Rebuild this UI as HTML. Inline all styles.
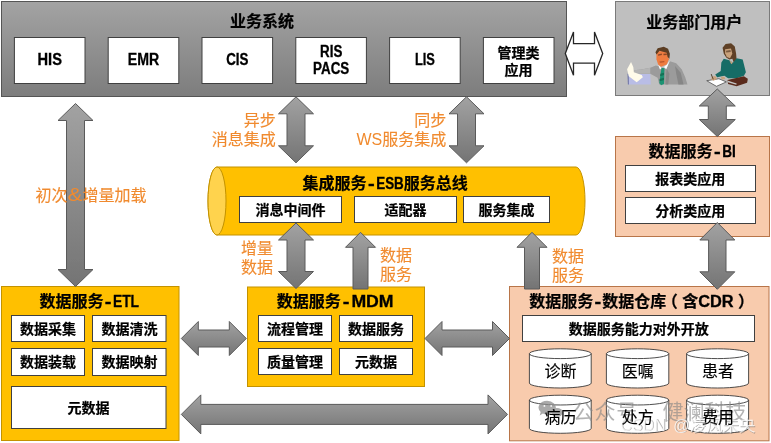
<!DOCTYPE html>
<html lang="zh">
<head>
<meta charset="utf-8">
<title>数据集成架构</title>
<style>
html,body{margin:0;padding:0;background:#fff;}
body{width:771px;height:443px;overflow:hidden;font-family:"Liberation Sans","Noto Sans CJK SC",sans-serif;}
svg{display:block;}
svg text{font-family:"Liberation Sans","Noto Sans CJK SC",sans-serif;}
</style>
</head>
<body>
<svg width="771" height="443" viewBox="0 0 771 443">
<defs>
<filter id="pblur"><feGaussianBlur stdDeviation="0.35"/></filter>
<filter id="soft" x="0" y="0" width="771" height="443" filterUnits="userSpaceOnUse"><feGaussianBlur stdDeviation="0.45"/></filter>
<linearGradient id="gs" x1="0" y1="0" x2="0" y2="1"><stop offset="0" stop-color="#a3a3a3"/><stop offset="1" stop-color="#7d7d7d"/></linearGradient>
<linearGradient id="ga" x1="0" y1="0" x2="0" y2="1"><stop offset="0" stop-color="#a2a2a2"/><stop offset="1" stop-color="#747474"/></linearGradient>
</defs>
<rect width="771" height="443" fill="#fff"/>
<g filter="url(#soft)">
<rect x="1.5" y="1.5" width="565.00" height="95.00" fill="url(#gs)" stroke="#555" stroke-width="1"/>
<rect x="14.4" y="37.5" width="70.60" height="46.00" fill="#fff" stroke="#404040" stroke-width="1"/>
<rect x="108.2" y="37.5" width="70.60" height="46.00" fill="#fff" stroke="#404040" stroke-width="1"/>
<rect x="202.0" y="37.5" width="70.60" height="46.00" fill="#fff" stroke="#404040" stroke-width="1"/>
<rect x="295.79999999999995" y="37.5" width="70.60" height="46.00" fill="#fff" stroke="#404040" stroke-width="1"/>
<rect x="389.59999999999997" y="37.5" width="70.60" height="46.00" fill="#fff" stroke="#404040" stroke-width="1"/>
<rect x="483.4" y="37.5" width="70.60" height="46.00" fill="#fff" stroke="#404040" stroke-width="1"/>
<rect x="615.5" y="1.5" width="154.00" height="94.00" fill="#bfbfbf" stroke="#7a7a7a" stroke-width="1"/>
<g id="people" filter="url(#pblur)">
<!-- man at desk -->
<g transform="translate(622 40) scale(0.1129)">
<polygon points="55,300 250,300 255,395 60,395" fill="#b9bde6"/>
<polygon points="48,300 60,300 62,395 52,395" fill="#767cab"/>
<polygon points="330,235 300,225 250,245 170,262 105,268 100,295 180,298 250,300 315,335 330,395 580,395 560,330 530,262 480,205 425,188 395,250 350,250" fill="#9b9b9b"/>
<polygon points="250,245 170,262 105,268 100,295 180,298 250,300" fill="#b4b4b4"/>
<polygon points="470,230 520,290 545,395 500,395 480,300" fill="#868686"/>
<polygon points="395,250 420,300 410,395 385,395" fill="#8a8a8a"/>
<polygon points="322,222 352,250 336,262" fill="#fff"/>
<polygon points="422,183 392,258 372,240 400,215" fill="#fff"/>
<polygon points="350,245 376,250 372,390 346,400 330,380" fill="#1f9373"/>
<polygon points="340,300 372,290 372,310 338,322" fill="#127055"/>
<polygon points="334,345 372,335 372,355 333,365" fill="#127055"/>
<polygon points="305,100 395,98 416,170 396,216 346,238 320,216 305,170" fill="#ee7b40"/>
<polygon points="318,128 352,120 354,132 320,140" fill="#8a4a28"/>
<polygon points="366,122 396,120 398,132 368,134" fill="#8a4a28"/>
<polygon points="332,190 376,186 374,198 336,202" fill="#b8552a"/>
<polygon points="296,108 316,72 370,60 408,78 424,122 420,165 404,150 396,112 332,96 306,128" fill="#5b3d22"/>
<polygon points="80,195 100,240 105,285 175,310 185,330 130,375 60,320 45,260" fill="#fffbea"/>
</g>
<!-- woman writing -->
<g transform="translate(700 38) scale(0.12201)">
<polygon points="185,80 210,50 255,44 285,70 296,130 302,200 282,216 265,170 240,176 215,160 195,130" fill="#5f4126"/>
<polygon points="206,92 254,86 265,130 246,166 220,156 206,126" fill="#c9a27c"/>
<polygon points="213,104 250,99 252,114 215,119" fill="#7a5a40"/>
<polygon points="195,170 240,182 270,202 300,165 350,176 376,280 360,310 300,330 230,330 200,310 140,322 125,300 170,270 175,200" fill="#156c66"/>
<polygon points="240,182 256,215 270,202" fill="#c9a27c"/>
<polygon points="225,345 360,314 392,335 386,366 300,396 230,376" fill="#5a2c1c"/>
<polygon points="225,348 300,372 298,384 228,362" fill="#c4c4c4"/>
<polygon points="55,350 155,334 216,360 135,396" fill="#fff" stroke="#444" stroke-width="6"/>
<polygon points="95,318 125,312 140,335 112,350 92,340" fill="#c9a27c"/>
<polygon points="170,318 200,318 208,336 178,340" fill="#c9a27c"/>
<polygon points="88,298 95,296 112,338 106,340" fill="#4a3a2a"/>
</g>
</g>

<path d="M217 167 H576 A9 34 0 0 1 576 235 H217 A9 34 0 0 1 217 167 Z" fill="#ffc000" stroke="#c39200"/>
<ellipse cx="217" cy="201" rx="9" ry="34" fill="#ffd34d" stroke="#c39200"/>
<rect x="239.5" y="196.5" width="102.00" height="26.00" fill="#fff" stroke="#404040" stroke-width="1"/>
<rect x="354.5" y="196.5" width="102.00" height="26.00" fill="#fff" stroke="#404040" stroke-width="1"/>
<rect x="463.5" y="196.5" width="86.00" height="26.00" fill="#fff" stroke="#404040" stroke-width="1"/>
<rect x="615.5" y="136.5" width="154.00" height="100.00" fill="#f8cbad" stroke="#b8754a" stroke-width="1"/>
<rect x="625.5" y="165.5" width="130.00" height="26.00" fill="#fff" stroke="#404040" stroke-width="1"/>
<rect x="625.5" y="197.5" width="130.00" height="26.00" fill="#fff" stroke="#404040" stroke-width="1"/>
<rect x="1.5" y="286.5" width="177.50" height="154.00" fill="#ffc000" stroke="#c39200" stroke-width="1"/>
<rect x="11.5" y="315.5" width="73.00" height="26.00" fill="#fff" stroke="#404040" stroke-width="1"/>
<rect x="92.5" y="315.5" width="73.50" height="26.00" fill="#fff" stroke="#404040" stroke-width="1"/>
<rect x="11.5" y="348.5" width="73.00" height="27.00" fill="#fff" stroke="#404040" stroke-width="1"/>
<rect x="92.5" y="348.5" width="73.50" height="27.00" fill="#fff" stroke="#404040" stroke-width="1"/>
<rect x="11.5" y="386.5" width="154.50" height="42.00" fill="#fff" stroke="#404040" stroke-width="1"/>
<rect x="247.5" y="287" width="177.00" height="99.50" fill="#ffc000" stroke="#c39200" stroke-width="1"/>
<rect x="258.5" y="315.5" width="73.00" height="26.00" fill="#fff" stroke="#404040" stroke-width="1"/>
<rect x="339.5" y="315.5" width="73.00" height="26.00" fill="#fff" stroke="#404040" stroke-width="1"/>
<rect x="258.5" y="348.5" width="73.00" height="26.00" fill="#fff" stroke="#404040" stroke-width="1"/>
<rect x="339.5" y="348.5" width="73.00" height="26.00" fill="#fff" stroke="#404040" stroke-width="1"/>
<rect x="509.5" y="286.5" width="259.50" height="154.30" fill="#f8cbad" stroke="#b8754a" stroke-width="1"/>
<rect x="522.5" y="315.5" width="232.00" height="26.00" fill="#fff" stroke="#404040" stroke-width="1"/>
<path d="M529.4 353.7 A30.900000000000034 4.9 0 0 1 591.2 353.7 V383.1 A30.900000000000034 4.9 0 0 1 529.4 383.1 Z" fill="#fff" stroke="#3a3a3a" stroke-width="0.9"/>
<path d="M529.4 353.7 A30.900000000000034 4.9 0 0 0 591.2 353.7" fill="none" stroke="#3a3a3a" stroke-width="0.9"/>
<path d="M529.4 400.09999999999997 A30.900000000000034 4.9 0 0 1 591.2 400.09999999999997 V428.40000000000003 A30.900000000000034 4.9 0 0 1 529.4 428.40000000000003 Z" fill="#fff" stroke="#3a3a3a" stroke-width="0.9"/>
<path d="M529.4 400.09999999999997 A30.900000000000034 4.9 0 0 0 591.2 400.09999999999997" fill="none" stroke="#3a3a3a" stroke-width="0.9"/>
<path d="M606.4 353.7 A31.19999999999999 4.9 0 0 1 668.8 353.7 V383.1 A31.19999999999999 4.9 0 0 1 606.4 383.1 Z" fill="#fff" stroke="#3a3a3a" stroke-width="0.9"/>
<path d="M606.4 353.7 A31.19999999999999 4.9 0 0 0 668.8 353.7" fill="none" stroke="#3a3a3a" stroke-width="0.9"/>
<path d="M606.4 400.09999999999997 A31.19999999999999 4.9 0 0 1 668.8 400.09999999999997 V428.40000000000003 A31.19999999999999 4.9 0 0 1 606.4 428.40000000000003 Z" fill="#fff" stroke="#3a3a3a" stroke-width="0.9"/>
<path d="M606.4 400.09999999999997 A31.19999999999999 4.9 0 0 0 668.8 400.09999999999997" fill="none" stroke="#3a3a3a" stroke-width="0.9"/>
<path d="M686.6 353.7 A31.0 4.9 0 0 1 748.6 353.7 V383.1 A31.0 4.9 0 0 1 686.6 383.1 Z" fill="#fff" stroke="#3a3a3a" stroke-width="0.9"/>
<path d="M686.6 353.7 A31.0 4.9 0 0 0 748.6 353.7" fill="none" stroke="#3a3a3a" stroke-width="0.9"/>
<path d="M686.6 400.09999999999997 A31.0 4.9 0 0 1 748.6 400.09999999999997 V428.40000000000003 A31.0 4.9 0 0 1 686.6 428.40000000000003 Z" fill="#fff" stroke="#3a3a3a" stroke-width="0.9"/>
<path d="M686.6 400.09999999999997 A31.0 4.9 0 0 0 748.6 400.09999999999997" fill="none" stroke="#3a3a3a" stroke-width="0.9"/>
<polygon points="75.5,103.5 93.0,120.5 84.5,120.5 84.5,269.5 93.0,269.5 75.5,286.5 58.0,269.5 66.5,269.5 66.5,120.5 58.0,120.5" fill="url(#ga)" stroke="#5a5a5a" stroke-width="1" stroke-linejoin="miter"/>
<polygon points="296.0,96.8 313.5,113.8 305.0,113.8 305.0,145.8 313.5,145.8 296.0,162.8 278.5,145.8 287.0,145.8 287.0,113.8 278.5,113.8" fill="url(#ga)" stroke="#5a5a5a" stroke-width="1" stroke-linejoin="miter"/>
<polygon points="466.5,96.8 484.0,113.8 475.5,113.8 475.5,145.8 484.0,145.8 466.5,162.8 449.0,145.8 457.5,145.8 457.5,113.8 449.0,113.8" fill="url(#ga)" stroke="#5a5a5a" stroke-width="1" stroke-linejoin="miter"/>
<polygon points="717.3,89.0 735.3,106.0 726.3,106.0 726.3,119.5 735.3,119.5 717.3,136.5 699.3,119.5 708.3,119.5 708.3,106.0 699.3,106.0" fill="url(#ga)" stroke="#5a5a5a" stroke-width="1" stroke-linejoin="miter"/>
<polygon points="565.3,53.6 573.5,31.9 573.5,43.7 594.5,43.7 594.5,31.9 602.7,53.6 594.5,75.3 594.5,63.2 573.5,63.2 573.5,75.3" fill="#fff" stroke="#262626" stroke-width="1.3" stroke-linejoin="miter"/>
<polygon points="296.0,223.0 313.5,240.0 305.0,240.0 305.0,271.5 313.5,271.5 296.0,288.5 278.5,271.5 287.0,271.5 287.0,240.0 278.5,240.0" fill="url(#ga)" stroke="#5a5a5a" stroke-width="1" stroke-linejoin="miter"/>
<polygon points="360.5,232.3 375.5,247.3 368.0,247.3 368.0,289.0 353.0,289.0 353.0,247.3 345.5,247.3" fill="url(#ga)" stroke="#5a5a5a" stroke-width="1" stroke-linejoin="miter"/>
<polygon points="532.0,232.3 547.0,247.3 539.5,247.3 539.5,289.0 524.5,289.0 524.5,247.3 517.0,247.3" fill="url(#ga)" stroke="#5a5a5a" stroke-width="1" stroke-linejoin="miter"/>
<polygon points="717.3,222.5 734.8,240.0 726.0,240.0 726.0,271.8 734.8,271.8 717.3,289.3 699.8,271.8 708.6,271.8 708.6,240.0 699.8,240.0" fill="url(#ga)" stroke="#5a5a5a" stroke-width="1" stroke-linejoin="miter"/>
<polygon points="181.3,338.5 198.3,321.5 198.3,330.0 229.3,330.0 229.3,321.5 246.3,338.5 229.3,355.5 229.3,347.0 198.3,347.0 198.3,355.5" fill="url(#ga)" stroke="#5a5a5a" stroke-width="1" stroke-linejoin="miter"/>
<polygon points="425.0,338.5 442.0,321.5 442.0,330.0 492.5,330.0 492.5,321.5 509.5,338.5 492.5,355.5 492.5,347.0 442.0,347.0 442.0,355.5" fill="url(#ga)" stroke="#5a5a5a" stroke-width="1" stroke-linejoin="miter"/>
<polygon points="181.3,414.4 200.8,394.9 200.8,404.4 488.0,404.4 488.0,394.9 507.5,414.4 488.0,433.9 488.0,424.4 200.8,424.4 200.8,433.9" fill="url(#ga)" stroke="#5a5a5a" stroke-width="1" stroke-linejoin="miter"/>
<g fill="#000">
<text x="230.00" y="27.28" font-size="16" font-weight="bold" stroke="#000" stroke-width="0.22" textLength="64" lengthAdjust="spacingAndGlyphs">业务系统</text>
</g>
<text x="49.70" y="65.48" font-size="15.6" font-weight="bold" fill="#000" stroke="#000" stroke-width="0.3" text-anchor="middle" textLength="24.40" lengthAdjust="spacingAndGlyphs">HIS</text>
<text x="143.50" y="65.48" font-size="15.6" font-weight="bold" fill="#000" stroke="#000" stroke-width="0.3" text-anchor="middle" textLength="31.40" lengthAdjust="spacingAndGlyphs">EMR</text>
<text x="237.30" y="65.48" font-size="15.6" font-weight="bold" fill="#000" stroke="#000" stroke-width="0.3" text-anchor="middle" textLength="22.30" lengthAdjust="spacingAndGlyphs">CIS</text>
<text x="424.90" y="65.48" font-size="15.6" font-weight="bold" fill="#000" stroke="#000" stroke-width="0.3" text-anchor="middle" textLength="20.00" lengthAdjust="spacingAndGlyphs">LIS</text>
<text x="331.20" y="57.38" font-size="15.6" font-weight="bold" fill="#000" stroke="#000" stroke-width="0.3" text-anchor="middle" textLength="22.30" lengthAdjust="spacingAndGlyphs">RIS</text>
<text x="331.20" y="74.38" font-size="15.6" font-weight="bold" fill="#000" stroke="#000" stroke-width="0.3" text-anchor="middle" textLength="36.20" lengthAdjust="spacingAndGlyphs">PACS</text>
<g fill="#000">
<text x="497.60" y="57.82" font-size="14" font-weight="bold" stroke="#000" stroke-width="0.22" textLength="42" lengthAdjust="spacingAndGlyphs">管理类</text>
</g>
<g fill="#000">
<text x="504.60" y="74.82" font-size="14" font-weight="bold" stroke="#000" stroke-width="0.22" textLength="28" lengthAdjust="spacingAndGlyphs">应用</text>
</g>
<g fill="#000">
<text x="646.20" y="28.28" font-size="16" font-weight="bold" stroke="#000" stroke-width="0.22" textLength="96" lengthAdjust="spacingAndGlyphs">业务部门用户</text>
</g>
<g fill="#f08a2e">
<text x="35.60" y="201.38" font-size="16" font-weight="normal" stroke="#f08a2e" stroke-width="0.14" textLength="32" lengthAdjust="spacingAndGlyphs">初次</text>
<text x="67.60" y="201.38" font-size="18" font-weight="normal" textLength="15.00" lengthAdjust="spacingAndGlyphs">&amp;</text>
<text x="82.60" y="201.38" font-size="16" font-weight="normal" stroke="#f08a2e" stroke-width="0.14" textLength="64" lengthAdjust="spacingAndGlyphs">增量加载</text>
</g>
<g fill="#f08a2e">
<text x="243.70" y="125.68" font-size="16" font-weight="normal" stroke="#f08a2e" stroke-width="0.14" textLength="32" lengthAdjust="spacingAndGlyphs">异步</text>
</g>
<g fill="#f08a2e">
<text x="211.70" y="144.78" font-size="16" font-weight="normal" stroke="#f08a2e" stroke-width="0.14" textLength="64" lengthAdjust="spacingAndGlyphs">消息集成</text>
</g>
<g fill="#f08a2e">
<text x="414.30" y="125.68" font-size="16" font-weight="normal" stroke="#f08a2e" stroke-width="0.14" textLength="32" lengthAdjust="spacingAndGlyphs">同步</text>
</g>
<g fill="#f08a2e">
<text x="356.53" y="144.78" font-size="16" font-weight="normal">WS</text>
<text x="382.30" y="144.78" font-size="16" font-weight="normal" stroke="#f08a2e" stroke-width="0.14" textLength="64" lengthAdjust="spacingAndGlyphs">服务集成</text>
</g>
<g fill="#f08a2e">
<text x="241.00" y="254.38" font-size="16" font-weight="normal" stroke="#f08a2e" stroke-width="0.14" textLength="32" lengthAdjust="spacingAndGlyphs">增量</text>
</g>
<g fill="#f08a2e">
<text x="241.00" y="273.48" font-size="16" font-weight="normal" stroke="#f08a2e" stroke-width="0.14" textLength="32" lengthAdjust="spacingAndGlyphs">数据</text>
</g>
<g fill="#f08a2e">
<text x="380.00" y="261.38" font-size="16" font-weight="normal" stroke="#f08a2e" stroke-width="0.14" textLength="32" lengthAdjust="spacingAndGlyphs">数据</text>
</g>
<g fill="#f08a2e">
<text x="380.00" y="280.28" font-size="16" font-weight="normal" stroke="#f08a2e" stroke-width="0.14" textLength="32" lengthAdjust="spacingAndGlyphs">服务</text>
</g>
<g fill="#f08a2e">
<text x="552.00" y="261.68" font-size="16" font-weight="normal" stroke="#f08a2e" stroke-width="0.14" textLength="32" lengthAdjust="spacingAndGlyphs">数据</text>
</g>
<g fill="#f08a2e">
<text x="552.00" y="280.58" font-size="16" font-weight="normal" stroke="#f08a2e" stroke-width="0.14" textLength="32" lengthAdjust="spacingAndGlyphs">服务</text>
</g>
<g fill="#000">
<text x="302.60" y="189.08" font-size="16" font-weight="bold" stroke="#000" stroke-width="0.22" textLength="64" lengthAdjust="spacingAndGlyphs">集成服务</text>
<text x="368.07" y="189.08" font-size="16" font-weight="bold" stroke="#000" stroke-width="0.3" textLength="6.66" lengthAdjust="spacingAndGlyphs">-</text>
<text x="376.20" y="189.08" font-size="16" font-weight="bold" stroke="#000" stroke-width="0.3" textLength="27.60" lengthAdjust="spacingAndGlyphs">ESB</text>
<text x="403.80" y="189.08" font-size="16" font-weight="bold" stroke="#000" stroke-width="0.22" textLength="64" lengthAdjust="spacingAndGlyphs">服务总线</text>
</g>
<g fill="#000">
<text x="255.50" y="214.82" font-size="14" font-weight="bold" stroke="#000" stroke-width="0.22" textLength="70" lengthAdjust="spacingAndGlyphs">消息中间件</text>
</g>
<g fill="#000">
<text x="384.50" y="214.82" font-size="14" font-weight="bold" stroke="#000" stroke-width="0.22" textLength="42" lengthAdjust="spacingAndGlyphs">适配器</text>
</g>
<g fill="#000">
<text x="478.50" y="214.82" font-size="14" font-weight="bold" stroke="#000" stroke-width="0.22" textLength="56" lengthAdjust="spacingAndGlyphs">服务集成</text>
</g>
<g fill="#000">
<text x="39.50" y="307.28" font-size="16" font-weight="bold" stroke="#000" stroke-width="0.22" textLength="64" lengthAdjust="spacingAndGlyphs">数据服务</text>
<text x="104.87" y="307.28" font-size="16" font-weight="bold" stroke="#000" stroke-width="0.3" textLength="6.66" lengthAdjust="spacingAndGlyphs">-</text>
<text x="112.90" y="307.28" font-size="16" font-weight="bold" stroke="#000" stroke-width="0.3" textLength="26.20" lengthAdjust="spacingAndGlyphs">ETL</text>
</g>
<g fill="#000">
<text x="20.00" y="333.82" font-size="14" font-weight="bold" stroke="#000" stroke-width="0.22" textLength="56" lengthAdjust="spacingAndGlyphs">数据采集</text>
</g>
<g fill="#000">
<text x="101.50" y="333.82" font-size="14" font-weight="bold" stroke="#000" stroke-width="0.22" textLength="56" lengthAdjust="spacingAndGlyphs">数据清洗</text>
</g>
<g fill="#000">
<text x="20.00" y="367.32" font-size="14" font-weight="bold" stroke="#000" stroke-width="0.22" textLength="56" lengthAdjust="spacingAndGlyphs">数据装载</text>
</g>
<g fill="#000">
<text x="101.50" y="367.32" font-size="14" font-weight="bold" stroke="#000" stroke-width="0.22" textLength="56" lengthAdjust="spacingAndGlyphs">数据映射</text>
</g>
<g fill="#000">
<text x="67.50" y="412.52" font-size="14" font-weight="bold" stroke="#000" stroke-width="0.22" textLength="42" lengthAdjust="spacingAndGlyphs">元数据</text>
</g>
<g fill="#000">
<text x="276.80" y="307.28" font-size="16" font-weight="bold" stroke="#000" stroke-width="0.22" textLength="64" lengthAdjust="spacingAndGlyphs">数据服务</text>
<text x="342.77" y="307.28" font-size="16" font-weight="bold" stroke="#000" stroke-width="0.3" textLength="6.66" lengthAdjust="spacingAndGlyphs">-</text>
<text x="351.40" y="307.28" font-size="16" font-weight="bold" stroke="#000" stroke-width="0.3" textLength="42.20" lengthAdjust="spacingAndGlyphs">MDM</text>
</g>
<g fill="#000">
<text x="267.00" y="333.82" font-size="14" font-weight="bold" stroke="#000" stroke-width="0.22" textLength="56" lengthAdjust="spacingAndGlyphs">流程管理</text>
</g>
<g fill="#000">
<text x="348.00" y="333.82" font-size="14" font-weight="bold" stroke="#000" stroke-width="0.22" textLength="56" lengthAdjust="spacingAndGlyphs">数据服务</text>
</g>
<g fill="#000">
<text x="267.00" y="366.62" font-size="14" font-weight="bold" stroke="#000" stroke-width="0.22" textLength="56" lengthAdjust="spacingAndGlyphs">质量管理</text>
</g>
<g fill="#000">
<text x="355.00" y="366.62" font-size="14" font-weight="bold" stroke="#000" stroke-width="0.22" textLength="42" lengthAdjust="spacingAndGlyphs">元数据</text>
</g>
<g fill="#000">
<text x="648.50" y="157.28" font-size="16" font-weight="bold" stroke="#000" stroke-width="0.22" textLength="64" lengthAdjust="spacingAndGlyphs">数据服务</text>
<text x="714.07" y="157.28" font-size="16" font-weight="bold" stroke="#000" stroke-width="0.3" textLength="6.66" lengthAdjust="spacingAndGlyphs">-</text>
<text x="722.30" y="157.28" font-size="16" font-weight="bold" stroke="#000" stroke-width="0.3" textLength="13.60" lengthAdjust="spacingAndGlyphs">BI</text>
</g>
<g fill="#000">
<text x="655.30" y="183.72" font-size="14" font-weight="bold" stroke="#000" stroke-width="0.22" textLength="70" lengthAdjust="spacingAndGlyphs">报表类应用</text>
</g>
<g fill="#000">
<text x="655.30" y="215.92" font-size="14" font-weight="bold" stroke="#000" stroke-width="0.22" textLength="70" lengthAdjust="spacingAndGlyphs">分析类应用</text>
</g>
<g fill="#000">
<text x="529.30" y="307.48" font-size="16" font-weight="bold" stroke="#000" stroke-width="0.22" textLength="64" lengthAdjust="spacingAndGlyphs">数据服务</text>
<text x="594.42" y="307.48" font-size="16" font-weight="bold" stroke="#000" stroke-width="0.3" textLength="6.66" lengthAdjust="spacingAndGlyphs">-</text>
<text x="602.20" y="307.48" font-size="16" font-weight="bold" stroke="#000" stroke-width="0.22" textLength="64" lengthAdjust="spacingAndGlyphs">数据仓库</text>
<text x="661.72" y="307.48" font-size="16" font-weight="bold" stroke="#000" stroke-width="0.22">（</text>
<text x="682.20" y="307.48" font-size="16" font-weight="bold" stroke="#000" stroke-width="0.22">含</text>
<text x="698.20" y="307.48" font-size="16" font-weight="bold" stroke="#000" stroke-width="0.3" textLength="35.40" lengthAdjust="spacingAndGlyphs">CDR</text>
<text x="738.08" y="307.48" font-size="16" font-weight="bold" stroke="#000" stroke-width="0.22">）</text>
</g>
<g fill="#000">
<text x="568.80" y="333.92" font-size="14" font-weight="bold" stroke="#000" stroke-width="0.22" textLength="140" lengthAdjust="spacingAndGlyphs">数据服务能力对外开放</text>
</g>
<g opacity="0.75"><path d="M547.1 400.8 a8.8 6.8 0 1 1 -4.2 12.8 l-3.2 1.8 l1 -3.4 a8.8 6.8 0 0 1 6.4 -11.2 Z" fill="#8e8e8e"/><ellipse cx="557" cy="412.5" rx="5.6" ry="4.6" fill="#8e8e8e"/><circle cx="544.4" cy="405.9" r="0.9" fill="#fff"/><circle cx="551.2" cy="405.9" r="0.9" fill="#fff"/></g>
<g fill="#868686" opacity="0.62">
<text x="572.80" y="419.28" font-size="21" font-weight="normal">公</text>
</g>
<g fill="#868686" opacity="0.62">
<text x="594.50" y="419.28" font-size="21" font-weight="normal">众</text>
</g>
<g fill="#868686" opacity="0.62">
<text x="616.20" y="419.28" font-size="21" font-weight="normal">号</text>
</g>
<g fill="#868686" opacity="0.62" role="img" aria-label="·">
<text x="640.00" y="419.28" font-size="21" font-weight="normal">·</text>
</g>
<g fill="#868686" opacity="0.62">
<text x="662.60" y="419.28" font-size="21" font-weight="normal">健</text>
</g>
<g fill="#868686" opacity="0.62">
<text x="683.60" y="419.28" font-size="21" font-weight="normal">澜</text>
</g>
<g fill="#868686" opacity="0.62">
<text x="704.60" y="419.28" font-size="21" font-weight="normal">科</text>
</g>
<g fill="#868686" opacity="0.62">
<text x="725.60" y="419.28" font-size="21" font-weight="normal">技</text>
</g>
<g opacity="0.5" fill="#6a6a6a">
<text x="621.0999999999999" y="431.40000000000003" font-size="16">CSDN</text>
<text x="674.0" y="431.40000000000003" font-size="16">@</text>
<g fill="#6a6a6a">
<text x="690.80" y="431.99" font-size="16.3" font-weight="normal" textLength="65.2" lengthAdjust="spacingAndGlyphs">凌风未央</text>
</g>
</g>
<g opacity="0.8" fill="#ffffff">
<text x="620.3" y="430.6" font-size="16">CSDN</text>
<text x="673.2" y="430.6" font-size="16">@</text>
<g fill="#ffffff">
<text x="690.00" y="431.19" font-size="16.3" font-weight="normal" textLength="65.2" lengthAdjust="spacingAndGlyphs">凌风未央</text>
</g>
</g>
<g fill="#000">
<text x="544.50" y="376.88" font-size="16" font-weight="normal" stroke="#000" stroke-width="0.14" textLength="32" lengthAdjust="spacingAndGlyphs">诊断</text>
</g>
<g fill="#000">
<text x="544.50" y="422.58" font-size="16" font-weight="normal" stroke="#000" stroke-width="0.14" textLength="32" lengthAdjust="spacingAndGlyphs">病历</text>
</g>
<g fill="#000">
<text x="621.70" y="376.88" font-size="16" font-weight="normal" stroke="#000" stroke-width="0.14" textLength="32" lengthAdjust="spacingAndGlyphs">医嘱</text>
</g>
<g fill="#000">
<text x="621.70" y="422.58" font-size="16" font-weight="normal" stroke="#000" stroke-width="0.14" textLength="32" lengthAdjust="spacingAndGlyphs">处方</text>
</g>
<g fill="#000">
<text x="702.00" y="376.88" font-size="16" font-weight="normal" stroke="#000" stroke-width="0.14" textLength="32" lengthAdjust="spacingAndGlyphs">患者</text>
</g>
<g fill="#000">
<text x="702.00" y="422.58" font-size="16" font-weight="normal" stroke="#000" stroke-width="0.14" textLength="32" lengthAdjust="spacingAndGlyphs">费用</text>
</g>
</g>
</svg>
</body>
</html>
